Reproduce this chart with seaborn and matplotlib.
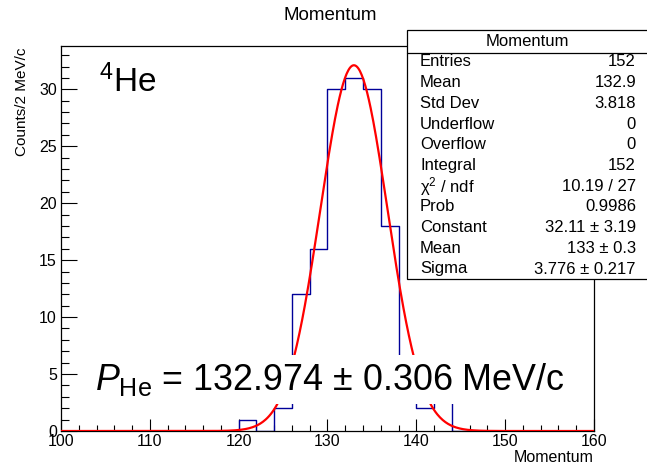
import matplotlib
matplotlib.use("Agg")
import matplotlib.pyplot as plt
from matplotlib.patches import Rectangle
from matplotlib.lines import Line2D
from matplotlib.ticker import MultipleLocator
import numpy as np
import pandas as pd
import seaborn as sns

# histogram: 2 MeV/c bins, low edges and counts
bin_low = [120, 122, 124, 126, 128, 130, 132, 134, 136, 138, 140, 142]
counts = [1, 0, 2, 12, 16, 30, 31, 30, 18, 6, 2, 4]
x_range = [100, 160]
bin_width = 2

# gaus fit parameters
fit_constant = 32.11
fit_mean = 132.974
fit_sigma = 3.776

stat_labels = ["Entries", "Mean", "Std Dev", "Underflow", "Overflow", "Integral",
               "χ$^{2}$ / ndf", "Prob", "Constant", "Mean", "Sigma"]
stat_values = ["152", "132.9", "3.818", "0", "0", "152", "10.19 / 27", "0.9986",
               "32.11 ± 3.19", "133 ± 0.3", "3.776 ± 0.217"]

sns.set_style("white")
plt.rcParams["font.family"] = ["Liberation Sans", "DejaVu Sans"]
plt.rcParams["mathtext.fontset"] = "custom"
plt.rcParams["mathtext.rm"] = "Liberation Sans"
plt.rcParams["mathtext.it"] = "Liberation Sans:italic"
plt.rcParams["text.color"] = "black"
plt.rcParams["xtick.color"] = "black"
plt.rcParams["ytick.color"] = "black"

fig = plt.figure(figsize=(6.47, 4.66), dpi=100)
ax = fig.add_axes([61 / 647, 1 - 431 / 466, (594 - 61) / 647, (431 - 46) / 466])

df = pd.DataFrame({"momentum": np.array(bin_low) + bin_width / 2, "counts": counts})
sns.histplot(data=df, x="momentum", weights="counts", binwidth=bin_width,
             binrange=tuple(x_range), element="step",
             fill=False, color="#000099", linewidth=1.0, ax=ax)

xs = np.linspace(x_range[0], x_range[1], 600)
ys = fit_constant * np.exp(-0.5 * ((xs - fit_mean) / fit_sigma) ** 2)
sns.lineplot(x=xs, y=ys, color="red", linewidth=1.6, ax=ax, zorder=3)

ax.set_xlim(x_range)
ax.set_ylim(0, 33.8)
ax.set_xlabel("")
ax.set_ylabel("")
for side in ax.spines.values():
    side.set_color("black")
    side.set_linewidth(0.9)

ax.xaxis.set_major_locator(MultipleLocator(10))
ax.xaxis.set_minor_locator(MultipleLocator(2))
ax.yaxis.set_major_locator(MultipleLocator(5))
ax.yaxis.set_minor_locator(MultipleLocator(1))
ax.tick_params(axis="x", which="major", direction="in", length=8.5, width=0.8,
               labelsize=11.5, pad=2, bottom=True, top=False, color="black")
ax.tick_params(axis="x", which="minor", direction="in", length=4.2, width=0.8,
               bottom=True, top=False, color="black")
ax.tick_params(axis="y", which="major", direction="in", length=11.5, width=0.8,
               labelsize=11.5, pad=3, left=True, right=False, color="black")
ax.tick_params(axis="y", which="minor", direction="in", length=5.7, width=0.8,
               left=True, right=False, color="black")

fig.text(95 / 647, 1 - 390 / 466, r"$P_{\rm He}$ = 132.974 ± 0.306 MeV/c",
         fontsize=25.8, ha="left", va="baseline", zorder=5,
         bbox=dict(boxstyle="square,pad=0.18", facecolor="white", edgecolor="none"))
fig.text(99 / 647, 1 - 92 / 466, r"$^{4}$He", fontsize=24, ha="left", va="baseline")

fig.text(330 / 647, 1 - 15 / 466, "Momentum", fontsize=13.5, ha="center", va="center")
fig.text(594 / 647, 1 - 457 / 466, "Momentum", fontsize=11.5, ha="right", va="center")
fig.text(22 / 647, 1 - 48 / 466, "Counts/2 MeV/c", fontsize=11, rotation=90,
         ha="center", va="top")

# stats box
bx0, by0, bx1, by1 = 407, 30, 652, 279
fig.add_artist(Rectangle((bx0 / 647, 1 - by1 / 466), (bx1 - bx0) / 647, (by1 - by0) / 466,
                         transform=fig.transFigure, facecolor="white",
                         edgecolor="black", linewidth=0.9, zorder=10))
fig.add_artist(Line2D([bx0 / 647, 1], [1 - 53 / 466, 1 - 53 / 466],
                      transform=fig.transFigure, color="black", linewidth=0.9, zorder=11))
fig.text(527 / 647, 1 - 41 / 466, "Momentum", fontsize=12, ha="center", va="center",
         zorder=12)
for i, (lab, val) in enumerate(zip(stat_labels, stat_values)):
    yy = 1 - (62 + i * 20.7) / 466
    fig.text(420 / 647, yy, lab, fontsize=12, ha="left", va="center", zorder=12)
    fig.text(636 / 647, yy, val, fontsize=12, ha="right", va="center", zorder=12)

fig.savefig("out.png", dpi=100)
